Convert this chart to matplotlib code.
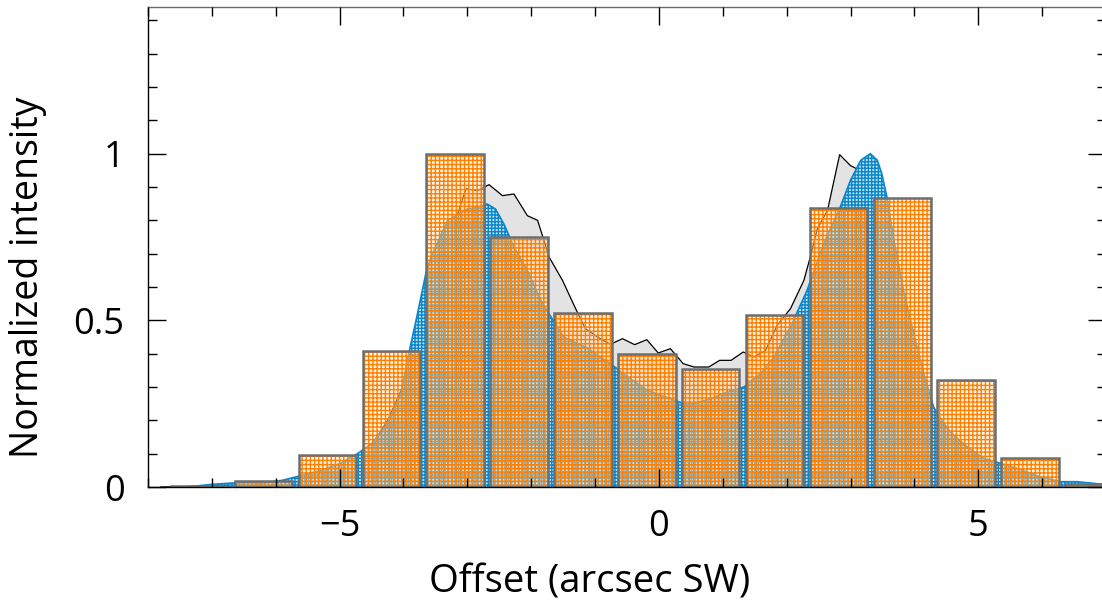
import numpy as np
import matplotlib
matplotlib.use('Agg')
import matplotlib.pyplot as plt
from matplotlib.ticker import MultipleLocator, FixedLocator

plt.rcParams['font.family'] = ['Open Sans', 'DejaVu Sans']
plt.rcParams['hatch.linewidth'] = 1.0

# binned intensity (bars)
bin_centers = [-7.19, -6.19, -5.19, -4.19, -3.19, -2.19, -1.19, -0.19,
               0.81, 1.81, 2.81, 3.81, 4.81, 5.81, 6.81]
bin_values = [0.003, 0.018, 0.096, 0.409, 1.0, 0.75, 0.522, 0.398,
              0.355, 0.516, 0.838, 0.867, 0.322, 0.087, 0.008]

# observed profile (grey)
obs_x = [-7.8, -7.0, -6.5, -6.0, -5.69, -5.3, -5.06, -4.72, -4.46, -4.25,
         -4.04, -3.83, -3.62, -3.52, -3.41, -3.31, -3.20, -3.10, -3.02, -2.84,
         -2.66, -2.45, -2.27, -2.06, -1.90, -1.80, -1.72, -1.51, -1.28, -1.15,
         -0.96, -0.76, -0.57, -0.38, -0.19, -0.01, 0.18, 0.38, 0.55, 0.78,
         0.95, 1.13, 1.32, 1.49, 1.67, 1.85, 2.06, 2.27, 2.37, 2.48,
         2.64, 2.83, 3.00, 3.21, 3.31, 3.42, 3.52, 3.68, 3.83, 3.99,
         4.15, 4.30, 4.6, 5.0, 5.5, 6.0, 6.5, 7.0]
obs_y = [0.0, 0.003, 0.006, 0.012, 0.028, 0.045, 0.065, 0.08, 0.138, 0.199,
         0.289, 0.40, 0.48, 0.56, 0.62, 0.71, 0.79, 0.85, 0.895, 0.889,
         0.907, 0.874, 0.879, 0.814, 0.80, 0.74, 0.69, 0.62, 0.525, 0.475,
         0.45, 0.428, 0.445, 0.427, 0.442, 0.402, 0.415, 0.37, 0.36, 0.36,
         0.38, 0.38, 0.405, 0.39, 0.41, 0.485, 0.535, 0.62, 0.69, 0.775,
         0.83, 0.997, 0.964, 0.944, 0.87, 0.81, 0.74, 0.60, 0.46, 0.36,
         0.24, 0.16, 0.10, 0.06, 0.04, 0.02, 0.008, 0.003]

# model profile (blue)
mod_x = [-7.4, -7.0, -6.6, -6.2, -5.9, -5.69, -5.3, -5.0, -4.72, -4.5,
         -4.25, -4.04, -3.94, -3.78, -3.65, -3.57, -3.31, -3.0, -2.79, -2.69,
         -2.56, -2.43, -2.27, -2.06, -1.85, -1.69, -1.49, -1.15, -0.76, -0.49,
         -0.18, 0.18, 0.39, 0.55, 0.81, 1.07, 1.33, 1.59, 1.80, 2.06,
         2.32, 2.58, 2.84, 3.0, 3.16, 3.31, 3.42, 3.49, 3.57, 3.68,
         3.83, 3.99, 4.15, 4.30, 4.41, 4.56, 4.83, 5.09, 5.35, 5.61,
         5.97, 6.29, 6.55, 6.91, 7.0]
mod_y = [0.0, 0.008, 0.013, 0.012, 0.02, 0.03, 0.05, 0.07, 0.10, 0.13,
         0.19, 0.28, 0.38, 0.52, 0.64, 0.69, 0.80, 0.834, 0.841, 0.849,
         0.834, 0.79, 0.72, 0.65, 0.56, 0.51, 0.45, 0.42, 0.37, 0.33,
         0.29, 0.265, 0.25, 0.25, 0.265, 0.285, 0.30, 0.34, 0.39, 0.48,
         0.59, 0.73, 0.84, 0.92, 0.98, 1.0, 0.98, 0.94, 0.87, 0.74,
         0.59, 0.46, 0.34, 0.24, 0.205, 0.166, 0.12, 0.086, 0.071, 0.056,
         0.031, 0.016, 0.016, 0.009, 0.008]

orange = '#ff7f00'
blue = '#0b86c8'
edge_grey = '#6e6e6e'

fig = plt.figure(figsize=(11.02, 6.05), dpi=100)
ax = fig.add_axes([0.1343, 0.195, 0.8693, 0.7935])

# observed
ax.fill_between(obs_x, obs_y, 0, facecolor='#e3e3e3', edgecolor='none', zorder=1)
ax.plot(obs_x, obs_y, color='black', lw=0.9, zorder=1.5)

# model
ax.fill_between(mod_x, mod_y, 0, facecolor='#bfe1f4', edgecolor=blue,
                hatch='+++++', linewidth=1.2, zorder=2)

# bins: hatched face, then grey outline on top
ax.bar(bin_centers, bin_values, width=0.9, facecolor=(1, 0.9, 0.78, 0.45),
       edgecolor=orange, hatch='++++', linewidth=0, zorder=3)
ax.bar(bin_centers, bin_values, width=0.9, fill=False,
       edgecolor=edge_grey, linewidth=1.8, zorder=3.5)

ax.set_xlim(-8, 7)
ax.set_ylim(0, 1.44)

ax.xaxis.set_major_locator(FixedLocator([-5, 0, 5]))
ax.xaxis.set_minor_locator(MultipleLocator(1))
ax.yaxis.set_major_locator(FixedLocator([0, 0.5, 1]))
ax.yaxis.set_minor_locator(MultipleLocator(0.1))
ax.set_yticklabels(['0', '0.5', '1'])

ax.tick_params(which='both', direction='in', top=True, right=True,
               width=1.0, colors='black', labelsize=26)
ax.tick_params(which='major', length=13)
ax.tick_params(which='minor', length=6.5)
ax.tick_params(axis='x', which='major', pad=16)
ax.tick_params(axis='y', which='major', pad=17)

for side in ['top', 'right']:
    ax.spines[side].set_color('#6a6a6a')
for side in ax.spines:
    ax.spines[side].set_linewidth(1.0)
    ax.spines[side].set_zorder(5)
ax.xaxis.set_zorder(5)
ax.yaxis.set_zorder(5)

ax.set_xlabel('Offset (arcsec SW)', fontsize=27.5)
ax.set_ylabel('Normalized intensity', fontsize=27)
ax.xaxis.set_label_coords(0.461, -0.16)
ax.yaxis.set_label_coords(-0.105, 0.4375)

fig.savefig('out.png', dpi=100)
